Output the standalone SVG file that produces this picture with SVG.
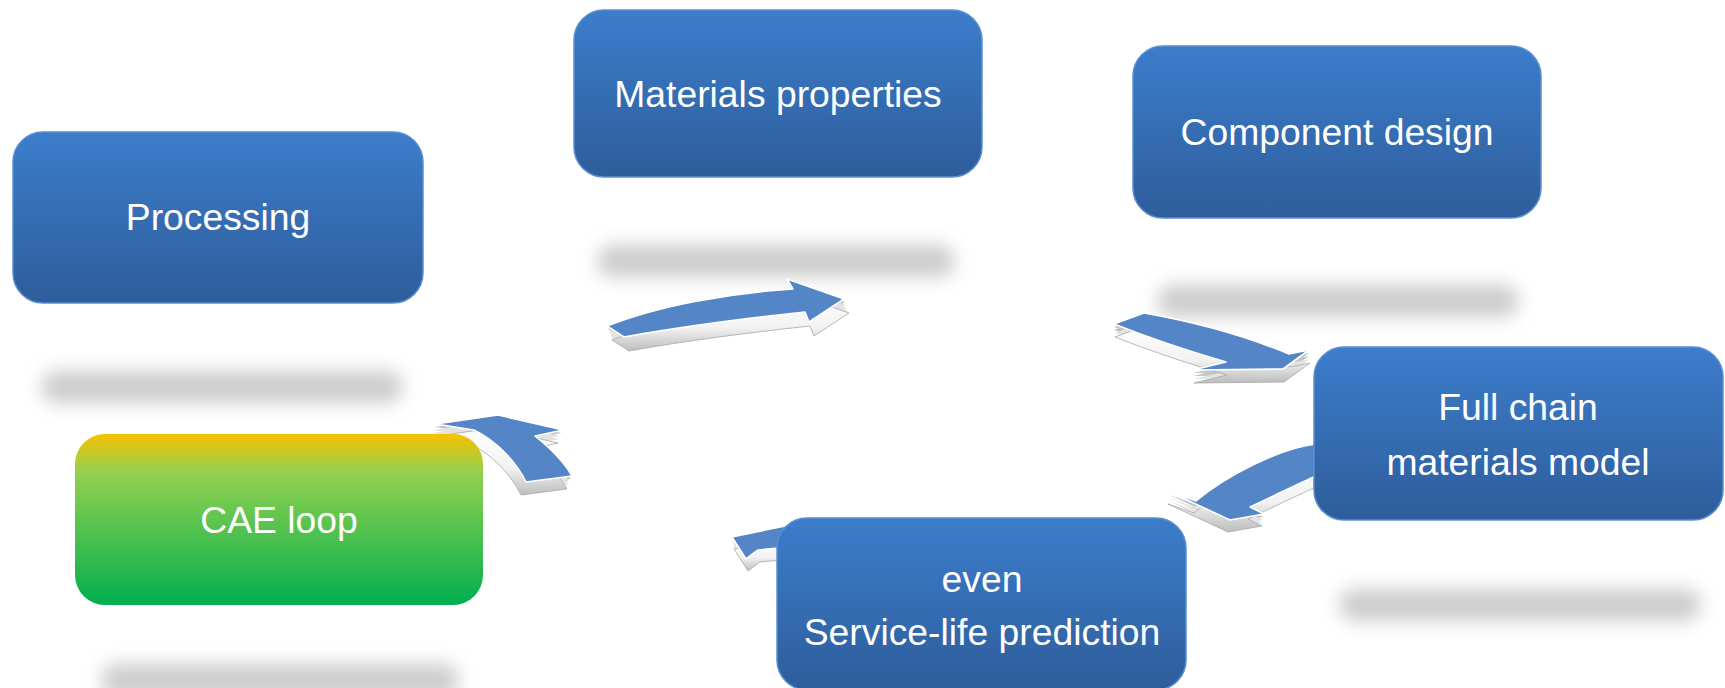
<svg xmlns="http://www.w3.org/2000/svg" xmlns:xlink="http://www.w3.org/1999/xlink" width="1725" height="688" viewBox="0 0 1725 688">
<defs>
<linearGradient id="blue" x1="0" y1="0" x2="0" y2="1">
<stop offset="0" stop-color="#3C7DCB"/>
<stop offset="1" stop-color="#2E5D9B"/>
</linearGradient>
<linearGradient id="green" x1="0" y1="0" x2="0" y2="1">
<stop offset="0" stop-color="#F7C100"/>
<stop offset="0.22" stop-color="#94D14F"/>
<stop offset="1" stop-color="#00AF4E"/>
</linearGradient>
<linearGradient id="ext" x1="0" y1="0" x2="0" y2="1">
<stop offset="0" stop-color="#ffffff"/>
<stop offset="0.6" stop-color="#f2f2f2"/>
<stop offset="1" stop-color="#bdbdbd"/>
</linearGradient>
<filter id="blur" x="-20%" y="-100%" width="140%" height="300%">
<feGaussianBlur stdDeviation="9"/>
</filter>
<path id="a1" d="M 607,326 C 660,305 730,293 793,289 L 787,279 L 844,299 L 809,322 L 805,312 C 740,319 680,327 624,337 Z"/>
<path id="a2" d="M 1114,324 L 1144,313 C 1195,322 1248,337 1289,354 L 1309,350 L 1283,369 L 1193,370 L 1226,362 C 1195,353 1152,339 1114,324 Z"/>
<path id="a3" d="M 1316,444 C 1280,448 1226,476 1196,501 L 1170,492 L 1230,520 L 1264,514 L 1250,507 C 1282,492 1302,482 1316,476 Z"/>
<path id="a4" d="M 732,537 L 790,525 L 790,547 L 758,550 L 746,559 Z"/>
<path id="a5" d="M 498,415 L 563,430 L 535,436 C 550,448 564,462 572,476 L 526,482 C 516,462 498,442 474,430 L 436,424 Z"/>
</defs>
<style>
.box{fill:url(#blue);stroke:#5A8ED2;stroke-width:1.5}
.cae{fill:url(#green);stroke:none}
.lbl{font-family:"Liberation Sans",Arial,sans-serif;font-size:37.3px;fill:#ffffff;text-anchor:middle}
.shadow{fill:#cccccc;filter:url(#blur)}
.face{fill:#5485C6;stroke:#ffffff;stroke-width:1.6;stroke-linejoin:round}
.side{fill:#e3e3e3;stroke:none}
.sided{fill:#c4c4c4;stroke:none}
.sideb{fill:url(#ext);stroke:#a8a8a8;stroke-width:0.8;stroke-linejoin:round}
</style>
<rect width="1725" height="688" fill="#ffffff"/>
<g id="shadows">
<rect class="shadow" x="598" y="245" width="356" height="32" rx="14"/>
<rect class="shadow" x="1158" y="285" width="360" height="32" rx="14"/>
<rect class="shadow" x="42" y="371" width="360" height="32" rx="14"/>
<rect class="shadow" x="1340" y="589" width="360" height="32" rx="14"/>
<rect class="shadow" x="102" y="664" width="356" height="34" rx="14"/>
</g>
<g id="connectors">
<g>
<use xlink:href="#a1" class="sided" transform="translate(1,3)"/>
<use xlink:href="#a1" class="side" transform="translate(2,6)"/>
<use xlink:href="#a1" class="side" transform="translate(3,9)"/>
<use xlink:href="#a1" class="side" transform="translate(4,12)"/>
<use xlink:href="#a1" class="sideb" transform="translate(5,14)"/>
<use xlink:href="#a1" class="face"/>
</g>
<g>
<use xlink:href="#a2" class="sided" transform="translate(0,3)"/>
<use xlink:href="#a2" class="sided" transform="translate(0,6)"/>
<use xlink:href="#a2" class="side" transform="translate(1,9)"/>
<use xlink:href="#a2" class="sideb" transform="translate(1,13)"/>
<use xlink:href="#a2" class="face"/>
</g>
<g>
<use xlink:href="#a3" class="sided" transform="translate(-0.5,3)"/>
<use xlink:href="#a3" class="side" transform="translate(-1,6)"/>
<use xlink:href="#a3" class="side" transform="translate(-1.5,9)"/>
<use xlink:href="#a3" class="sideb" transform="translate(-2,12)"/>
<use xlink:href="#a3" class="face"/>
</g>
<g>
<use xlink:href="#a4" class="side" transform="translate(0,3)"/>
<use xlink:href="#a4" class="side" transform="translate(1,6)"/>
<use xlink:href="#a4" class="side" transform="translate(1,9)"/>
<use xlink:href="#a4" class="sideb" transform="translate(2,12)"/>
<use xlink:href="#a4" class="face"/>
</g>
<g>
<use xlink:href="#a5" class="sided" transform="translate(-1.5,3)"/>
<use xlink:href="#a5" class="side" transform="translate(-3,6)"/>
<use xlink:href="#a5" class="side" transform="translate(-4,9)"/>
<use xlink:href="#a5" class="sideb" transform="translate(-5,13)"/>
<use xlink:href="#a5" class="face"/>
</g>
</g>
<g id="node-processing">
<rect class="box" x="13" y="132" width="410" height="171" rx="30"/>
<text class="lbl" x="218" y="230">Processing</text>
</g>
<g id="node-materials">
<rect class="box" x="574" y="10" width="408" height="167" rx="30"/>
<text class="lbl" x="778" y="107">Materials properties</text>
</g>
<g id="node-component">
<rect class="box" x="1133" y="46" width="408" height="172" rx="30"/>
<text class="lbl" x="1337" y="145">Component design</text>
</g>
<g id="node-fullchain">
<rect class="box" x="1314" y="347" width="409" height="173" rx="30"/>
<text class="lbl" x="1518" y="420">Full chain</text>
<text class="lbl" x="1518" y="475">materials model</text>
</g>
<g id="node-cae">
<rect class="cae" x="75" y="434" width="408" height="171" rx="30"/>
<text class="lbl" x="279" y="533">CAE loop</text>
</g>
<g id="node-service">
<rect class="box" x="777" y="518" width="409" height="172" rx="30"/>
<text class="lbl" x="982" y="592">even</text>
<text class="lbl" x="982" y="645">Service-life prediction</text>
</g>
</svg>
